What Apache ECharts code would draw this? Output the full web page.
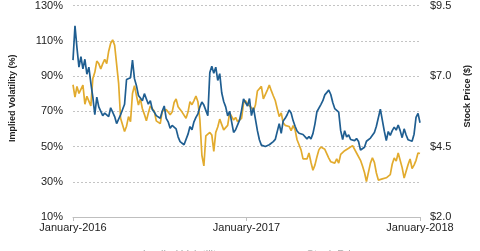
<!DOCTYPE html>
<html><head><meta charset="utf-8">
<script src="https://cdn.jsdelivr.net/npm/echarts@6/dist/echarts.min.js"></script>
<style>html,body{margin:0;padding:0;background:#fff}#c{width:480px;height:251px}</style>
</head><body><div id="c"></div>
<script>
// Evenly spaced observations from startDate to endDate
const startDate = '2016-01-01';
const endDate = '2018-01-01';
const xTickLabels = ['January-2016', 'January-2017', 'January-2018'];
const ivTicks = [10, 30, 50, 70, 90, 110, 130];
const priceTicks = [2.0, 4.5, 7.0, 9.5];
const ivName = 'Implied Volatility';
const priceName = 'Stock Price';

// Implied volatility (%), left axis
const impliedVolatility = [
  99, 118.5, 106, 95, 101, 94, 99.5, 91, 95, 86,
  78, 68, 78, 72.5, 73, 67.5, 69, 68.5, 67, 72,
  71, 67, 63, 63, 68, 69, 74, 88, 87.6, 89,
  99, 88.5, 84.5, 79, 77.5, 76, 80, 80, 74, 76,
  71, 69.5, 67.5, 68, 66, 70, 73, 66, 64, 60.3,
  62, 62, 60, 55.5, 52.8, 53.5, 51, 51.5, 57, 61.3,
  59.5, 64, 66.5, 68.5, 72.5, 75.2, 73.5, 70.5, 67.5, 92,
  95.5, 91.5, 95, 87.5, 91.3, 80.5, 75.5, 72.5, 67.4, 70,
  64, 58, 59.5, 59.8, 65, 70.5, 77, 77, 73, 77.2,
  67.5, 72, 65.5, 59, 53.8, 50.8, 50.5, 50, 49.8, 51,
  50.7, 52.8, 54, 53.3, 63, 57.5, 64.5, 66, 68, 70.7,
  69, 64.7, 61.5, 58.8, 57.5, 58, 56.8, 57.5, 54.3, 55.6,
  54.3, 57.3, 62.7, 69.7, 68.8, 73.8, 76, 79.3, 79.4, 82,
  79.5, 75, 71.5, 71.5, 69.5, 59, 54, 59, 55.4, 56.6,
  54, 53.8, 53.3, 54.5, 52.8, 48, 47.8, 49.6, 53, 52.8,
  54.8, 56.4, 58, 61.5, 61.3, 71.2, 71, 58.7, 53.4, 58.5,
  56.3, 59, 61, 59.3, 62.2, 59, 55, 60, 56.5, 53.8,
  53, 53, 57, 66.5, 68.8, 63.5
];

// Stock price ($), right axis
const stockPrice = [
  6.69, 6.25, 6.63, 6.38, 6.41, 6.68, 6.0, 6.28, 6.28, 5.94,
  6.91, 7.13, 7.53, 7.44, 7.25, 7.44, 7.59, 7.44, 7.88, 8.16,
  8.28, 8.09, 8.16, 6.75, 5.5, 5.5, 5.03, 5.22, 5.56, 5.38,
  6.38, 6.66, 6.31, 5.97, 6.19, 5.84, 5.64, 5.41, 5.69, 5.94,
  5.91, 5.75, 5.41, 5.44, 5.31, 5.75, 5.69, 5.81, 5.81, 5.63,
  5.72, 6.06, 6.19, 5.91, 5.91, 5.72, 5.72, 5.5, 5.72, 6.09,
  5.98, 6.13, 6.29, 6.09, 5.44, 4.19, 3.81, 4.88, 4.91, 5.0,
  4.91, 4.33, 5.0, 5.19, 5.47, 5.47, 5.09, 5.16, 5.25, 5.69,
  5.69, 5.44, 5.53, 5.38, 5.31, 5.5, 6.03, 6.13, 6.0, 5.94,
  5.88, 5.77, 5.97, 6.47, 6.44, 6.63, 6.19, 6.16, 6.5, 6.68,
  6.48, 6.3, 6.13, 5.84, 5.56, 5.69, 5.34, 5.25, 5.19, 5.21,
  5.06, 5.24, 5.09, 4.74, 4.56, 4.38, 4.06, 4.03, 4.06, 4.27,
  3.94, 3.66, 3.84, 4.13, 4.38, 4.48, 4.41, 4.4, 4.33, 4.09,
  3.96, 3.89, 3.91, 4.06, 3.91, 4.22, 4.28, 4.35, 4.3, 4.44,
  4.4, 4.53, 4.46, 4.27, 4.21, 4.01, 3.81, 3.58, 3.26, 3.31,
  3.91, 4.1, 3.94, 3.56, 3.31, 3.24, 3.35, 3.39, 3.39, 3.44,
  3.5, 3.88, 4.09, 3.98, 4.27, 4.26, 3.75, 3.38, 3.38, 3.86,
  4.06, 3.72, 3.84, 4.01, 4.27, 4.25
];

const DAY = 86400000;
const spanDays = (Date.parse(endDate) - Date.parse(startDate)) / DAY;
const withDays = arr => arr.map((v, i) => [i * spanDays / (arr.length - 1), v]);

const FONT = 'Liberation Sans, Arial, sans-serif';
const chart = echarts.init(document.getElementById('c'), null, {renderer: 'canvas'});
chart.setOption({
  animation: false,
  backgroundColor: '#ffffff',
  grid: {left: 72, right: 58, top: 3, bottom: 34},
  legend: {
    top: 244, left: 'center', itemGap: 60,
    data: [ivName, priceName],
    textStyle: {fontFamily: FONT, fontSize: 11, color: '#aaa'},
    itemWidth: 20, itemHeight: 8,
    lineStyle: {width: 0}
  },
  xAxis: {
    type: 'value', min: 0, max: spanDays, interval: spanDays / 2,
    axisLine: {show: true, lineStyle: {color: '#bfbfbf', width: 1}},
    axisTick: {show: true, length: 4, lineStyle: {color: '#bfbfbf'}},
    splitLine: {show: false},
    axisLabel: {
      margin: 5, color: '#222', fontSize: 11, fontFamily: FONT,
      formatter: v => xTickLabels[Math.round(v / (spanDays / 2))]
    }
  },
  yAxis: [
    {
      type: 'value', position: 'left', min: ivTicks[0], max: ivTicks[ivTicks.length - 1], interval: 20,
      axisLine: {show: false}, axisTick: {show: false},
      splitLine: {show: true, lineStyle: {color: '#c4c4c4', type: [2, 2], width: 1}},
      axisLabel: {margin: 10, color: '#222', fontSize: 11, fontFamily: FONT, formatter: '{value}%'},
      name: 'Implied Volatility (%)', nameLocation: 'middle', nameGap: 56,
      nameTextStyle: {fontFamily: FONT, fontSize: 9, fontWeight: 'bold', color: '#222', padding: [0, 0, 0, 26]}
    },
    {
      type: 'value', position: 'right', min: priceTicks[0], max: priceTicks[priceTicks.length - 1], interval: 0.5,
      axisLine: {show: false}, axisTick: {show: false}, splitLine: {show: false},
      axisLabel: {
        margin: 10, color: '#222', fontSize: 11, fontFamily: FONT,
        formatter: v => priceTicks.some(t => Math.abs(t - v) < 1e-6) ? '$' + v.toFixed(1) : ''
      },
      name: 'Stock Price ($)', nameLocation: 'middle', nameGap: 43,
      nameTextStyle: {fontFamily: FONT, fontSize: 9, fontWeight: 'bold', color: '#222', padding: [0, 0, 0, 30]}
    }
  ],
  series: [
    {
      name: priceName, type: 'line', yAxisIndex: 1, data: withDays(stockPrice),
      showSymbol: false, symbol: 'none', smooth: false,
      lineStyle: {color: '#e2ab2e', width: 1.7}, itemStyle: {color: '#e2ab2e'}
    },
    {
      name: ivName, type: 'line', yAxisIndex: 0, data: withDays(impliedVolatility),
      showSymbol: false, symbol: 'none', smooth: false,
      lineStyle: {color: '#1f5e91', width: 1.7}, itemStyle: {color: '#1f5e91'}
    }
  ]
});
</script></body></html>
